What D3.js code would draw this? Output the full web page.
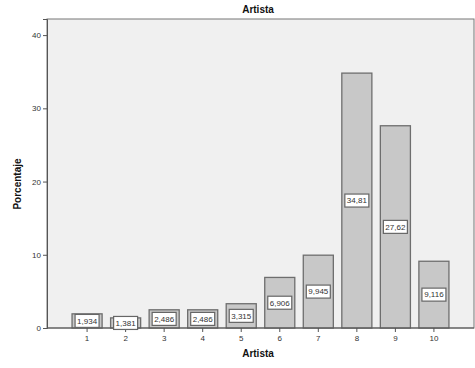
<!DOCTYPE html>
<html><head><meta charset="utf-8">
<script src="https://cdn.jsdelivr.net/npm/d3@7"></script>
<style>body{margin:0;background:#fff;} text{font-family:Arial,"Liberation Sans",sans-serif;}</style>
</head><body>
<svg id="c" width="475" height="368"></svg>
<script>
const categories = ["1","2","3","4","5","6","7","8","9","10"];
const values = [1.934, 1.381, 2.486, 2.486, 3.315, 6.906, 9.945, 34.81, 27.62, 9.116];
const labels = ["1,934","1,381","2,486","2,486","3,315","6,906","9,945","34,81","27,62","9,116"];
const yTicks = [0, 10, 20, 30, 40];

const svg = d3.select("#c");
const L = 47, R = 474, T = 19, B = 328;
const x = d3.scaleBand().domain(categories).range([L, R]).paddingInner(0.22).paddingOuter(0.65);
const y = d3.scaleLinear().domain([0, 42.2]).range([B, T]);

svg.append("rect").attr("x", L).attr("y", T).attr("width", R - L).attr("height", B - T)
  .attr("fill", "#f0f0f0").attr("stroke", "#777").attr("stroke-width", 1);

svg.append("g").selectAll("rect").data(values).join("rect")
  .attr("x", (d, i) => x(categories[i]))
  .attr("y", d => y(d))
  .attr("width", x.bandwidth())
  .attr("height", d => B - y(d))
  .attr("fill", "#c8c8c8").attr("stroke", "#6e6e6e").attr("stroke-width", 1.3);

// axes
const yAxis = d3.axisLeft(y).tickValues(yTicks).tickSize(4).tickPadding(2);
const gy = svg.append("g").attr("transform", `translate(${L},0)`).call(yAxis);
gy.select(".domain").attr("stroke", "#555");
gy.selectAll(".tick line").attr("stroke", "#555");
gy.selectAll("text").attr("font-size", 8).attr("fill", "#333");

const xAxis = d3.axisBottom(x).tickSize(4).tickPadding(3);
const gx = svg.append("g").attr("transform", `translate(0,${B})`).call(xAxis);
gx.select(".domain").remove();
gx.selectAll(".tick line").attr("stroke", "#555");
gx.selectAll("text").attr("font-size", 8).attr("fill", "#333");
svg.append("line").attr("x1", L).attr("x2", R).attr("y1", B).attr("y2", B).attr("stroke", "#555");

// value labels
const lg = svg.append("g").selectAll("g").data(values).join("g")
  .attr("transform", (d, i) => `translate(${x(categories[i]) + x.bandwidth() / 2},${y(d / 2)})`);
lg.append("rect").attr("x", -12).attr("y", -6.5).attr("width", 24).attr("height", 13)
  .attr("fill", "#fff").attr("stroke", "#666").attr("stroke-width", 1.2);
lg.append("text").text((d, i) => labels[i]).attr("text-anchor", "middle").attr("dy", "0.35em")
  .attr("font-size", 8).attr("fill", "#333");

svg.append("text").text("Artista").attr("x", 258).attr("y", 13).attr("text-anchor", "middle")
  .attr("font-size", 10).attr("font-weight", "bold").attr("fill", "#111");
svg.append("text").text("Artista").attr("x", 258).attr("y", 357).attr("text-anchor", "middle")
  .attr("font-size", 10).attr("font-weight", "bold").attr("fill", "#111");
svg.append("text").text("Porcentaje").attr("transform", "translate(21,184) rotate(-90)")
  .attr("text-anchor", "middle").attr("font-size", 10).attr("font-weight", "bold").attr("fill", "#111");
</script>
</body></html>
